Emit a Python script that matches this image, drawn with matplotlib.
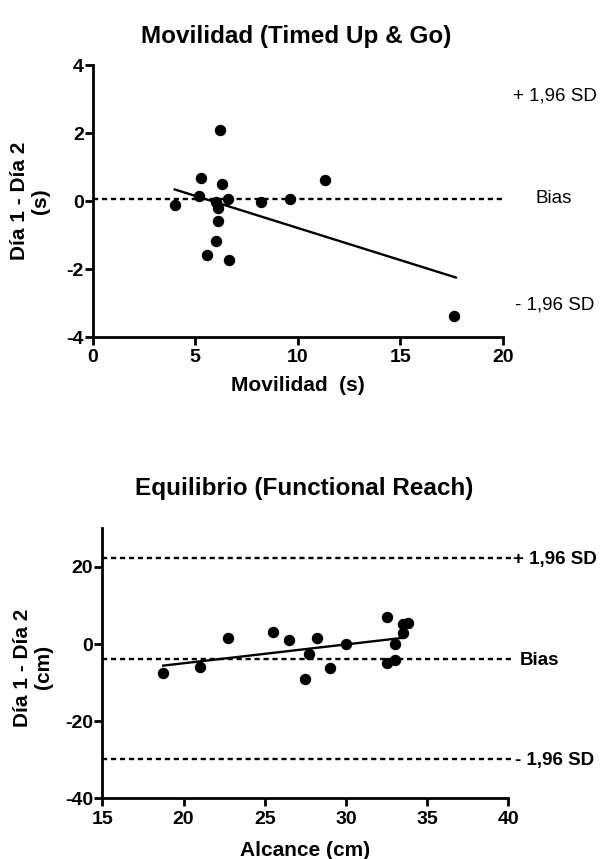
import matplotlib
matplotlib.use("Agg")
import matplotlib.pyplot as plt
import numpy as np

plt.rcParams['font.family'] = ['Liberation Sans', 'DejaVu Sans']
plt.rcParams['axes.unicode_minus'] = False

# ---- Data: Movilidad (Timed Up & Go) ----
tug_mean = [4.0, 5.2, 5.3, 6.2, 6.3, 6.0, 6.1, 6.6, 6.1, 6.0, 5.55, 6.65, 8.2, 9.6, 11.3, 17.6]
tug_diff = [-0.12, 0.15, 0.68, 2.1, 0.5, -0.02, -0.22, 0.05, -0.59, -1.17, -1.6, -1.74, -0.02, 0.05, 0.62, -3.37]
tug_fit_x = [4.0, 17.7]
tug_fit_y = [0.34, -2.25]
tug_bias = 0.06
tug_upper = 3.1
tug_lower = -3.06
tug_xticks = [0, 5, 10, 15, 20]
tug_yticks = [-4, -2, 0, 2, 4]

# ---- Data: Equilibrio (Functional Reach) ----
fr_mean = [18.75, 21.0, 22.75, 25.5, 26.5, 27.7, 27.5, 28.25, 29.0, 30.0, 32.5, 32.5, 33.0, 33.0, 33.5, 33.5, 33.8]
fr_diff = [-7.6, -6.0, 1.5, 3.0, 0.95, -2.6, -9.0, 1.5, -6.1, 0.0, 6.9, -5.0, -4.1, -0.1, 2.9, 5.2, 5.5]
fr_fit_x = [18.75, 33.5]
fr_fit_y = [-5.6, 1.6]
fr_bias = -3.9
fr_upper = 22.3
fr_lower = -29.8
fr_xticks = [15, 20, 25, 30, 35, 40]
fr_yticks = [-40, -20, 0, 20]

W, H = 605, 859
fig = plt.figure(figsize=(W / 100, H / 100), dpi=100)

TICK_FS = 14
LAB_FS = 15
TITLE_FS = 17.5
SIDE_FS = 13.5

def style_axes(ax):
    for s in ['top', 'right']:
        ax.spines[s].set_visible(False)
    for s in ['left', 'bottom']:
        ax.spines[s].set_linewidth(2.0)
    ax.tick_params(direction='out', length=6, width=2.0, labelsize=TICK_FS)
    ax.tick_params(axis='y', pad=0.5)
    ax.tick_params(axis='x', pad=3)
    for lab in ax.get_xticklabels() + ax.get_yticklabels():
        lab.set_fontweight('bold')

dash = (0, (2.2, 1.6))

def fx(px):
    return px / W

def fy(py):
    return 1 - py / H

# ---- Top axes ----
ax1 = fig.add_axes([fx(92.7), fy(337), (503 - 92.7) / W, (337 - 65) / H])
ax1.scatter(tug_mean, tug_diff, s=52, color='black', zorder=3, clip_on=False)
ax1.plot(tug_fit_x, tug_fit_y, color='black', lw=1.7, zorder=2)
ax1.plot([0, 20.1], [tug_bias, tug_bias], color='black', lw=1.7, linestyle=dash, clip_on=False)
ax1.set_xlim(0, 20)
ax1.set_ylim(-4, 4)
ax1.set_xticks(tug_xticks)
ax1.set_yticks(tug_yticks)
style_axes(ax1)
ax1.set_ylabel('Día 1 - Día 2\n(s)', fontsize=LAB_FS, fontweight='bold', linespacing=1.15)
ax1.yaxis.set_label_coords(-0.104, 0.5)
ax1.text(20.5, tug_upper, '+ 1,96 SD', fontsize=SIDE_FS, va='center', ha='left', clip_on=False)
ax1.text(21.6, tug_bias, 'Bias', fontsize=SIDE_FS, va='center', ha='left', clip_on=False)
ax1.text(20.6, tug_lower, '- 1,96 SD', fontsize=SIDE_FS, va='center', ha='left', clip_on=False)
fig.text(fx(298), fy(386), 'Movilidad  (s)', ha='center', va='center', fontsize=LAB_FS, fontweight='bold')
fig.text(fx(296), fy(36), 'Movilidad (Timed Up & Go)', ha='center', va='center',
         fontsize=TITLE_FS, fontweight='bold')

# ---- Bottom axes ----
ax2 = fig.add_axes([fx(102.3), fy(798.3), (508.3 - 102.3) / W, (798.3 - 528.3) / H])
ax2.scatter(fr_mean, fr_diff, s=52, color='black', zorder=3, clip_on=False)
ax2.plot(fr_fit_x, fr_fit_y, color='black', lw=1.7, zorder=2)
for yv in [fr_upper, fr_bias, fr_lower]:
    ax2.plot([15, 40.2], [yv, yv], color='black', lw=1.7, linestyle=dash, clip_on=False)
ax2.set_xlim(15, 40)
ax2.set_ylim(-40, 30)
ax2.set_xticks(fr_xticks)
ax2.set_yticks(fr_yticks)
style_axes(ax2)
ax2.set_ylabel('Día 1 - Día 2\n(cm)', fontsize=LAB_FS, fontweight='bold', linespacing=1.15)
ax2.yaxis.set_label_coords(-0.121, 0.485)
ax2.text(40.3, fr_upper - 0.5, '+ 1,96 SD', fontsize=SIDE_FS, fontweight='bold', va='center', ha='left', clip_on=False)
ax2.text(40.7, fr_bias - 0.5, 'Bias', fontsize=SIDE_FS, fontweight='bold', va='center', ha='left', clip_on=False)
ax2.text(40.4, fr_lower - 0.3, '- 1,96 SD', fontsize=SIDE_FS, fontweight='bold', va='center', ha='left', clip_on=False)
fig.text(fx(305), fy(850), 'Alcance (cm)', ha='center', va='center', fontsize=LAB_FS, fontweight='bold')
fig.text(fx(304), fy(488), 'Equilibrio (Functional Reach)', ha='center', va='center',
         fontsize=TITLE_FS, fontweight='bold')

fig.savefig('out.png', dpi=100)
